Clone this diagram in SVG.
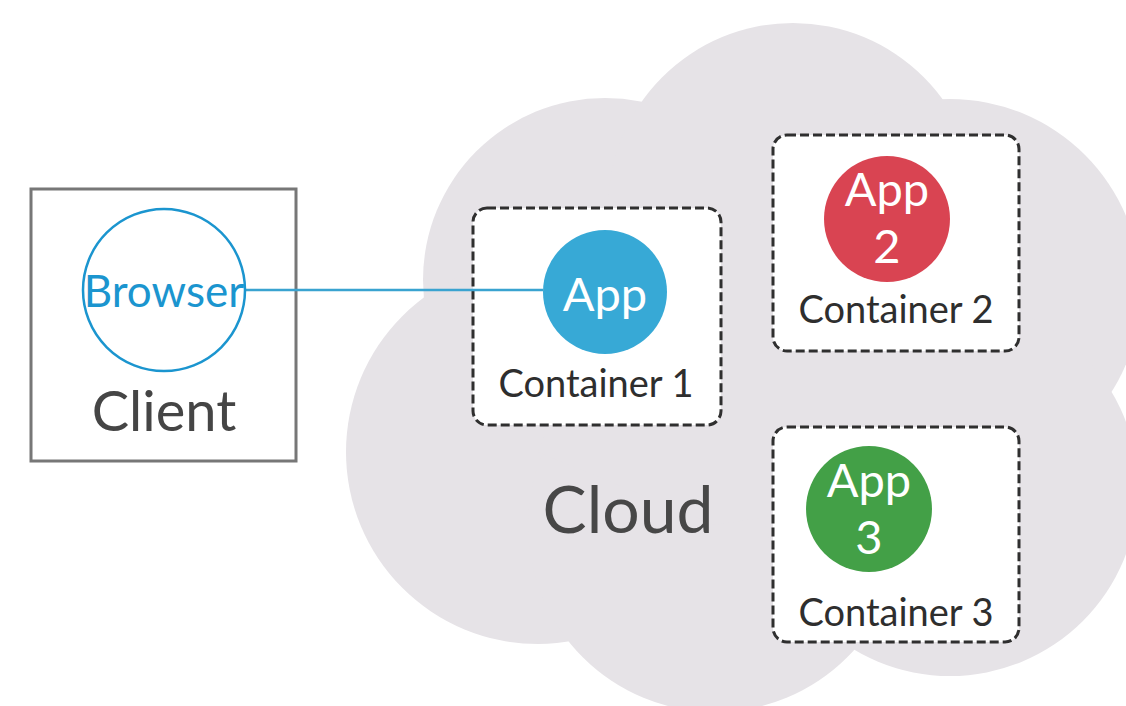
<svg xmlns="http://www.w3.org/2000/svg" width="1126" height="706" viewBox="0 0 1126 706">
<style>
  .lbl { font-family: Lato, "Open Sans", "Liberation Sans", sans-serif; }
  .cont { fill: #ffffff; stroke: #2f2f2f; stroke-width: 3; stroke-dasharray: 9 4; }
  .ctext { font-size: 38px; fill: #2e2e2e; text-anchor: middle; }
  .apptext { font-size: 47px; fill: #ffffff; text-anchor: middle; }
  .cloudfill { fill: #e6e3e7; }
</style>
<rect width="1126" height="706" fill="#ffffff"/>
<g id="cloud">
  <g class="cloudfill">
    <circle cx="605" cy="280" r="182"/>
    <circle cx="793" cy="208" r="185"/>
    <circle cx="950" cy="290" r="191"/>
    <circle cx="538" cy="452" r="192"/>
    <circle cx="715" cy="525" r="187"/>
    <circle cx="950" cy="488" r="188"/>
    <polygon points="605,280 793,208 950,290 950,488 715,525 538,452"/>
  </g>
  <text class="lbl" x="628" y="533" font-size="66" fill="#474747" text-anchor="middle">Cloud</text>
</g>
<g id="client">
  <rect x="31" y="189" width="265" height="272" fill="#ffffff" stroke="#777777" stroke-width="3"/>
  <text class="lbl" x="164" y="431" font-size="56" fill="#454545" text-anchor="middle">Client</text>
</g>
<g id="container1">
  <rect class="cont" x="473" y="208" width="248" height="217" rx="14"/>
  <circle cx="605" cy="292" r="62" fill="#37a9d6"/>
  <text class="lbl apptext" x="605" y="311">App</text>
  <text class="lbl ctext" x="596" y="397">Container 1</text>
</g>
<g id="container2">
  <rect class="cont" x="773" y="135" width="246" height="216" rx="14"/>
  <circle cx="887" cy="219" r="63" fill="#d94452"/>
  <text class="lbl apptext" x="887" y="206">App</text>
  <text class="lbl apptext" x="887" y="263">2</text>
  <text class="lbl ctext" x="896" y="323">Container 2</text>
</g>
<g id="container3">
  <rect class="cont" x="773" y="427" width="246" height="215" rx="14"/>
  <circle cx="869" cy="509" r="63" fill="#43a047"/>
  <text class="lbl apptext" x="869" y="497">App</text>
  <text class="lbl apptext" x="869" y="554">3</text>
  <text class="lbl ctext" x="896" y="626">Container 3</text>
</g>
<g id="connectors">
  <line x1="245" y1="290" x2="543" y2="290" stroke="#3aa3d0" stroke-width="2.5"/>
</g>
<g id="browser">
  <circle cx="164" cy="290" r="81" fill="none" stroke="#1b95cf" stroke-width="2.5"/>
  <text class="lbl" x="164" y="307" font-size="44" fill="#1b95cf" text-anchor="middle">Browser</text>
</g>
</svg>
